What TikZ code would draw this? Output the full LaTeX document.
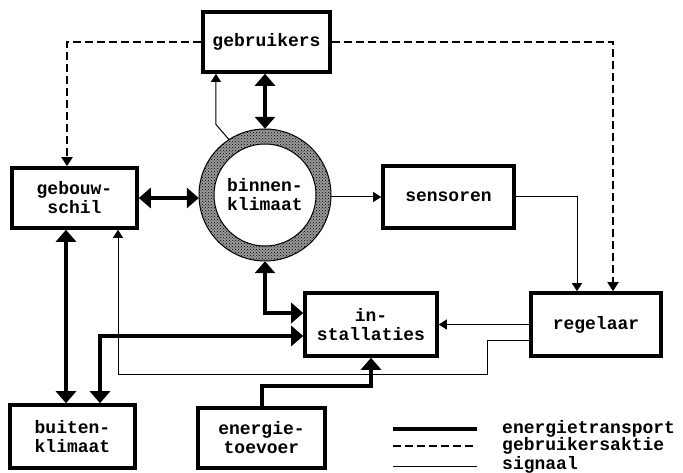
\documentclass[tikz,border=0pt]{standalone}
\usepackage{fontspec}
\newfontfamily\labelfont{Liberation Mono}
\usetikzlibrary{arrows.meta,calc,patterns}
\tikzset{
  lbl/.style={font=\labelfont\bfseries\fontsize{18}{19}\selectfont, align=center},
  box/.style={lbl, draw, line width=3.6pt, inner sep=0pt},
  energy/.style={line width=4pt, {Triangle[width=20pt,length=12pt]}-{Triangle[width=20pt,length=12pt]}},
  energyone/.style={line width=4pt, -{Triangle[width=20pt,length=12pt]}},
  sig/.style={line width=1pt, -{Triangle[width=10pt,length=8pt]}},
  userdash/.style={line width=1.8pt, dash pattern=on 8pt off 4pt, -{Triangle[width=11pt,length=9pt]}},
}
\begin{document}
\begin{tikzpicture}[x=1pt,y=-1pt]
\useasboundingbox (0,0) rectangle (683,473);
% boxes
\node[box, minimum width=127pt, minimum height=60pt] (gebruikers) at (266.5,42) {gebruikers};
\node[box, minimum width=125pt, minimum height=60pt] (gebouwschil) at (74.5,198) {gebouw-\\schil};
\node[box, minimum width=131pt, minimum height=62pt] (sensoren) at (448.5,197) {sensoren};
\node[box, minimum width=130pt, minimum height=63pt] (regelaar) at (596,324.5) {regelaar};
\node[box, minimum width=132pt, minimum height=63pt] (installaties) at (371,324.5) {in-\\stallaties};
\node[box, minimum width=125pt, minimum height=63pt] (buitenklimaat) at (72.5,436.5) {buiten-\\klimaat};
\node[box, minimum width=127pt, minimum height=60pt] (energietoevoer) at (261.5,438) {energie-\\toevoer};
% ring
\fill[black!40, even odd rule] (265,195) circle[radius=66pt] circle[radius=51pt];
\fill[pattern=crosshatch dots, pattern color=black, even odd rule] (265,195) circle[radius=66pt] circle[radius=51pt];
\draw[line width=1pt] (265,195) circle[radius=66pt] (265,195) circle[radius=51pt];
\node[lbl, circle, minimum size=132pt, inner sep=0pt] (ring) at (265,195) {binnen-\\klimaat};
% dashed user actions
\draw[userdash] (gebruikers.west) -| ($(gebouwschil.north)+(-7.5,0)$);
\draw[userdash] (gebruikers.east) -| ($(regelaar.north)+(17,0)$);
% energy
\draw[energy] (gebruikers.south -| ring.north) -- (ring.north);
\draw[energy] (gebouwschil.east) -- (gebouwschil.east -| ring.west);
\draw[energy] (ring.south) |- ($(installaties.west)+(0,-11.5)$);
\draw[energy] ($(installaties.west)+(0,11.5)$) -| ($(buitenklimaat.north)+(27.5,0)$);
\draw[energy] ($(gebouwschil.south)+(-8.5,0)$) -- ($(buitenklimaat.north)+(-6.5,0)$);
\draw[energyone] (energietoevoer.north) |- ($(installaties.south)+(0,28)$) -- (installaties.south);
% signals
\draw[sig] (ring.123) -- ++(-13,-15) coordinate (k) -- (k |- gebruikers.south);
\draw[sig] (ring.east |- sensoren.west) -- (sensoren.west);
\draw[sig] (sensoren.east) -| ($(regelaar.north)+(-19,0)$);
\draw[sig] (regelaar.west) -- (installaties.east);
\draw[sig] ($(regelaar.west)+(0,16)$) -| (487,374) -| ($(gebouwschil.south)+(43.5,0)$);
% legend
\coordinate (la1) at (393,429); \coordinate (lb1) at (477,429);
\coordinate (la2) at (393,446); \coordinate (lb2) at (477,446);
\coordinate (la3) at (393,466); \coordinate (lb3) at (477,466);
\draw[line width=4pt] (la1) -- (lb1);
\draw[line width=1.8pt, dash pattern=on 8pt off 4pt] (la2) -- (lb2);
\draw[line width=1pt] (la3) -- (lb3);
\node[lbl, anchor=west, inner sep=0pt] (t1) at (502,429) {energietransport};
\node[lbl, anchor=west, inner sep=0pt] (t2) at (502,446) {gebruikersaktie};
\node[lbl, anchor=west, inner sep=0pt] (t3) at (502,465) {signaal};
\end{tikzpicture}
\end{document}
